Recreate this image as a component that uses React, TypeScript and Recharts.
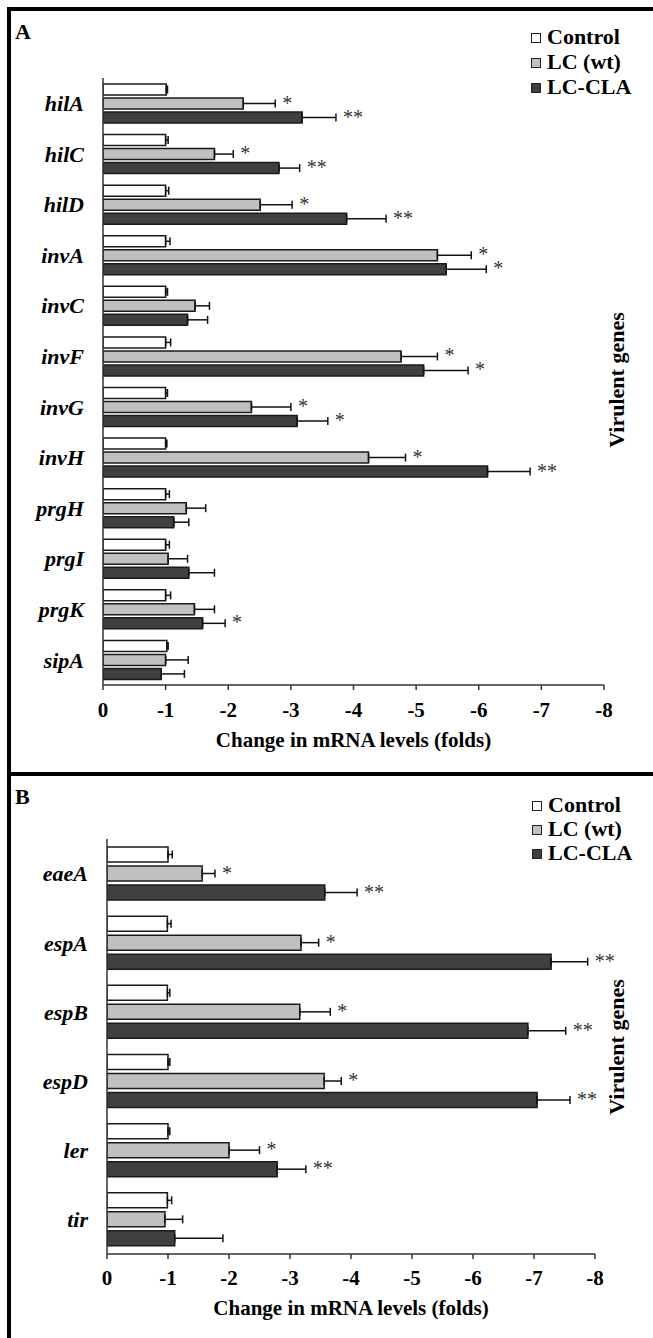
import React from 'react';
import { BarChart, Bar, XAxis, YAxis, ErrorBar, LabelList, Legend } from 'recharts';

const SERIF = '"Liberation Serif", "Times New Roman", serif';

// ---------- shared ----------
const seriesNames = ['Control', 'LC (wt)', 'LC-CLA'];
const seriesFills = ['#ffffff', '#c0c0c0', '#404040'];
const xTicks = [0, -1, -2, -3, -4, -5, -6, -7, -8];
const xTickLabels = ['0', '-1', '-2', '-3', '-4', '-5', '-6', '-7', '-8'];
const xTitle = 'Change in mRNA levels (folds)';
const yTitle = 'Virulent genes';

// ---------- panel A ----------
const genesA = ['hilA', 'hilC', 'hilD', 'invA', 'invC', 'invF', 'invG', 'invH', 'prgH', 'prgI', 'prgK', 'sipA'];
const controlA = [-1.01, -1.0, -1.0, -1.0, -1.0, -1.0, -1.0, -1.0, -1.0, -1.0, -1.0, -1.02];
const controlErrA = [0.02, 0.04, 0.05, 0.07, 0.03, 0.08, 0.03, 0.02, 0.06, 0.06, 0.08, 0.02];
const lcA = [-2.24, -1.78, -2.51, -5.34, -1.47, -4.76, -2.37, -4.24, -1.33, -1.04, -1.46, -1.0];
const lcErrA = [0.51, 0.3, 0.51, 0.54, 0.23, 0.58, 0.63, 0.59, 0.31, 0.31, 0.32, 0.36];
const claA = [-3.18, -2.81, -3.89, -5.48, -1.35, -5.12, -3.1, -6.14, -1.13, -1.37, -1.59, -0.93];
const claErrA = [0.54, 0.33, 0.63, 0.64, 0.32, 0.71, 0.49, 0.68, 0.24, 0.41, 0.36, 0.37];
const lcStarsA = ['*', '*', '*', '*', '', '*', '*', '*', '', '', '', ''];
const claStarsA = ['**', '**', '**', '*', '', '*', '*', '**', '', '', '*', ''];

// ---------- panel B ----------
const genesB = ['eaeA', 'espA', 'espB', 'espD', 'ler', 'tir'];
const controlB = [-1.0, -0.99, -0.99, -1.0, -1.0, -0.99];
const controlErrB = [0.07, 0.06, 0.04, 0.03, 0.03, 0.07];
const lcB = [-1.56, -3.18, -3.16, -3.56, -2.0, -0.95];
const lcErrB = [0.21, 0.29, 0.5, 0.28, 0.5, 0.29];
const claB = [-3.57, -7.28, -6.9, -7.05, -2.79, -1.11];
const claErrB = [0.53, 0.6, 0.62, 0.54, 0.47, 0.79];
const lcStarsB = ['*', '*', '*', '*', '*', ''];
const claStarsB = ['**', '**', '**', '**', '**', ''];

type Row = {
  gene: string;
  control: number; controlErr: number[];
  lc: number; lcErr: number[]; lcE: number; lcStar: string;
  cla: number; claErr: number[]; claE: number; claStar: string;
};

function buildRows(
  genes: string[], control: number[], controlErr: number[],
  lc: number[], lcErr: number[], cla: number[], claErr: number[],
  lcStars: string[], claStars: string[]
): Row[] {
  return genes.map((g, i) => ({
    gene: g,
    control: control[i], controlErr: [controlErr[i], 0],
    lc: lc[i], lcErr: [lcErr[i], 0], lcE: lcErr[i], lcStar: lcStars[i],
    cla: cla[i], claErr: [claErr[i], 0], claE: claErr[i], claStar: claStars[i],
  }));
}

const rowsA = buildRows(genesA, controlA, controlErrA, lcA, lcErrA, claA, claErrA, lcStarsA, claStarsA);
const rowsB = buildRows(genesB, controlB, controlErrB, lcB, lcErrB, claB, claErrB, lcStarsB, claStarsB);

const makeStarLabel = (rows: Row[], valueKey: 'lc' | 'cla', errKey: 'lcE' | 'claE') => (props: any) => {
  const { x, y, width, height, index, value } = props;
  if (!value || index === undefined) return null;
  const row = rows[index];
  const v = Math.abs(row[valueKey]);
  const w = Number(width);
  const right = Math.max(Number(x), Number(x) + w);
  const ppu = Math.abs(w) / v;
  const errEnd = right + row[errKey] * ppu;
  const cy = Number(y) + Number(height) / 2;
  return (
    <text x={errEnd + 7} y={cy + 6} fontSize={20} fontFamily={SERIF} fill="#333">
      {value}
    </text>
  );
};

const LegendBox = ({ rowH }: { rowH: number }) => (
  <div style={{ fontFamily: SERIF }}>
    {seriesNames.map((n, i) => (
      <div key={n} style={{ display: 'flex', alignItems: 'center', height: rowH }}>
        <div style={{ width: 10, height: 10, boxSizing: 'border-box', border: '1.5px solid #222', background: seriesFills[i], marginRight: 6, marginTop: 2 }} />
        <span style={{ fontSize: 22, fontWeight: 'bold', color: '#000', lineHeight: `${rowH}px` }}>{n}</span>
      </div>
    ))}
  </div>
);

type PanelProps = {
  rows: Row[];
  height: number;
  top: number;
  axisWidth: number;
  rightMargin: number;
  xAxisHeight: number;
  barSize: number;
  barGap: number;
  tickMargin: number;
  titleOffset: number;
  legendTop: number;
  legendLeft: number;
  legendRow: number;
};

const Panel = ({ rows, height, top, axisWidth, rightMargin, xAxisHeight, barSize, barGap, tickMargin, titleOffset, legendTop, legendLeft, legendRow }: PanelProps) => (
  <BarChart
    width={653}
    height={height}
    data={rows}
    layout="vertical"
    margin={{ top, right: rightMargin, bottom: 0, left: 0 }}
    barGap={barGap}
  >
    <XAxis
      type="number"
      domain={[-8, 0]}
      reversed
      allowDataOverflow
      ticks={xTicks}
      interval={0}
      tickFormatter={(v: number) => xTickLabels[xTicks.indexOf(v)] ?? String(v)}
      height={xAxisHeight}
      tickSize={5}
      tickMargin={tickMargin}
      axisLine={{ stroke: '#333', strokeWidth: 1.5 }}
      tickLine={{ stroke: '#333', strokeWidth: 1.5 }}
      tick={{ fontSize: 21, fontWeight: 'bold', fill: '#000', fontFamily: SERIF }}
      label={{ value: xTitle, position: 'insideBottom', offset: titleOffset, fontSize: 21, fontWeight: 'bold', fill: '#000', fontFamily: SERIF }}
    />
    <YAxis
      type="category"
      dataKey="gene"
      width={axisWidth}
      interval={0}
      tickLine={false}
      tickSize={0}
      tickMargin={19}
      axisLine={{ stroke: '#333', strokeWidth: 1.5 }}
      tick={{ fontSize: 22, fontWeight: 'bold', fontStyle: 'italic', fill: '#000', fontFamily: SERIF }}
    />
    <Legend
      layout="vertical"
      align="center"
      verticalAlign="middle"
      content={() => <LegendBox rowH={legendRow} />}
      wrapperStyle={{ left: legendLeft, top: legendTop, width: 120, height: legendRow * 3 }}
    />
    <Bar dataKey="control" name={seriesNames[0]} fill={seriesFills[0]} stroke="#1a1a1a" strokeWidth={1.5} barSize={barSize} isAnimationActive={false}>
      <ErrorBar dataKey="controlErr" direction="x" width={4} stroke="#111" strokeWidth={1.5} />
    </Bar>
    <Bar dataKey="lc" name={seriesNames[1]} fill={seriesFills[1]} stroke="#1a1a1a" strokeWidth={1.5} barSize={barSize} isAnimationActive={false}>
      <ErrorBar dataKey="lcErr" direction="x" width={4} stroke="#111" strokeWidth={1.5} />
      <LabelList dataKey="lcStar" content={makeStarLabel(rows, 'lc', 'lcE')} />
    </Bar>
    <Bar dataKey="cla" name={seriesNames[2]} fill={seriesFills[2]} stroke="#1a1a1a" strokeWidth={1.5} barSize={barSize} isAnimationActive={false}>
      <ErrorBar dataKey="claErr" direction="x" width={4} stroke="#111" strokeWidth={1.5} />
      <LabelList dataKey="claStar" content={makeStarLabel(rows, 'cla', 'claE')} />
    </Bar>
  </BarChart>
);

const vTitleStyle = (cx: number, cy: number): React.CSSProperties => ({
  position: 'absolute',
  left: cx - 100,
  top: cy - 13,
  width: 200,
  height: 26,
  lineHeight: '26px',
  textAlign: 'center',
  transform: 'rotate(-90deg)',
  fontFamily: SERIF,
  fontWeight: 'bold',
  fontSize: 22,
  color: '#000',
});

const panelLetter = (y: number): React.CSSProperties => ({
  position: 'absolute',
  left: 15,
  top: y,
  fontFamily: SERIF,
  fontWeight: 'bold',
  fontSize: 22,
  lineHeight: '22px',
  color: '#000',
});

export default function App() {
  return (
    <div style={{ position: 'absolute', left: 0, top: 0, width: 653, height: 1338, background: '#fff', overflow: 'hidden' }}>
      <div style={{ position: 'absolute', left: 0, top: 0 }}>
        <Panel rows={rowsA} height={775} top={78} axisWidth={103} rightMargin={49} xAxisHeight={90}
          barSize={11} barGap={3} tickMargin={12} titleOffset={28} legendTop={24} legendLeft={531} legendRow={25} />
      </div>
      <div style={{ position: 'absolute', left: 0, top: 776 }}>
        <Panel rows={rowsB} height={562} top={63} axisWidth={107} rightMargin={58} xAxisHeight={84}
          barSize={15} barGap={4} tickMargin={11} titleOffset={23} legendTop={17} legendLeft={532} legendRow={24} />
      </div>
      <div style={panelLetter(21)}>A</div>
      <div style={panelLetter(786)}>B</div>
      <div style={vTitleStyle(617, 380)}>{yTitle}</div>
      <div style={vTitleStyle(617, 1047)}>{yTitle}</div>
      {/* frame lines */}
      <div style={{ position: 'absolute', left: 7, top: 7, width: 646, height: 4, background: '#000' }} />
      <div style={{ position: 'absolute', left: 7, top: 7, width: 4, height: 1331, background: '#000' }} />
      <div style={{ position: 'absolute', left: 7, top: 772, width: 646, height: 4, background: '#000' }} />
    </div>
  );
}
